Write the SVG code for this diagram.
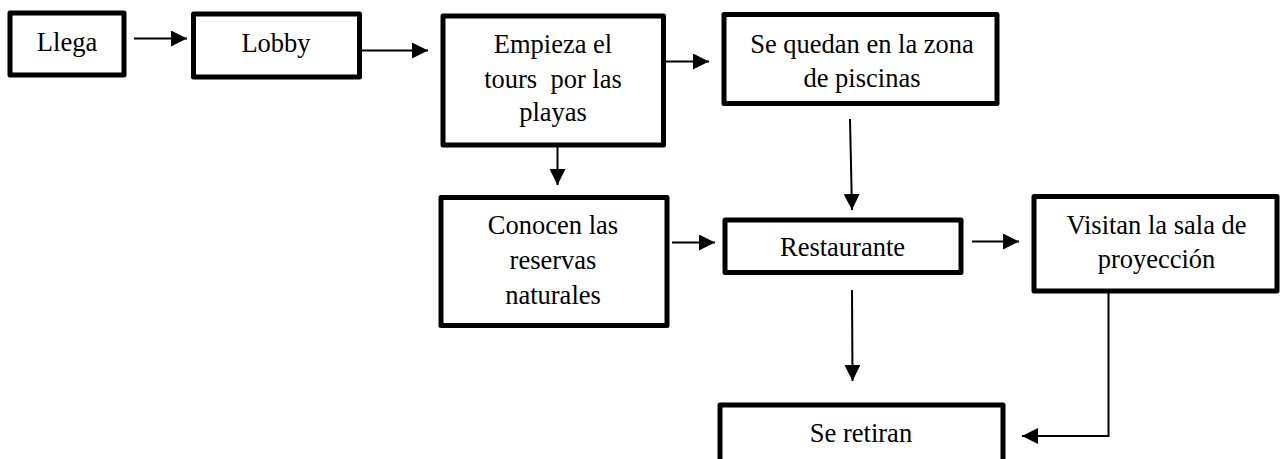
<svg xmlns="http://www.w3.org/2000/svg" width="1285" height="459" viewBox="0 0 1285 459">
<style>
.box{fill:#fff;stroke:#000;stroke-width:5;stroke-linejoin:round}
.t{font-family:"Liberation Serif","Times New Roman",serif;font-size:26.5px;fill:#000;text-anchor:middle}
.c{fill:none;stroke:#000;stroke-width:2}
</style>
<defs>
<marker id="ah" markerUnits="userSpaceOnUse" markerWidth="16" markerHeight="16" refX="16" refY="8" orient="auto">
<path d="M0,0 L16,8 L0,16 Z" fill="#000"/>
</marker>
</defs>
<rect width="1285" height="459" fill="#fff"/>
<g id="connectors">
<line class="c" x1="134" y1="38.5" x2="187" y2="38.5" marker-end="url(#ah)"/>
<line class="c" x1="362" y1="50.5" x2="428" y2="50.5" marker-end="url(#ah)"/>
<line class="c" x1="666" y1="61.5" x2="709" y2="61.5" marker-end="url(#ah)"/>
<line class="c" x1="557.5" y1="147" x2="557.5" y2="185" marker-end="url(#ah)"/>
<line class="c" x1="850" y1="119" x2="852" y2="210" marker-end="url(#ah)"/>
<line class="c" x1="672" y1="242.5" x2="715" y2="242.5" marker-end="url(#ah)"/>
<line class="c" x1="972" y1="241.5" x2="1019" y2="241.5" marker-end="url(#ah)"/>
<line class="c" x1="852" y1="290" x2="852.5" y2="381" marker-end="url(#ah)"/>
<polyline class="c" points="1108.5,293 1108.5,436 1022,436" marker-end="url(#ah)"/>
</g>
<g id="n-llega">
<rect class="box" x="10" y="13" width="114" height="62"/>
<text class="t" x="67" y="51">Llega</text>
</g>
<g id="n-lobby">
<rect class="box" x="193.5" y="14" width="166" height="63"/>
<text class="t" x="276" y="52">Lobby</text>
</g>
<g id="n-empieza">
<rect class="box" x="443" y="16" width="220.5" height="129"/>
<text class="t" x="553" y="53">Empieza el</text>
<text class="t" x="553" y="88" xml:space="preserve">tours  por las</text>
<text class="t" x="553" y="121">playas</text>
</g>
<g id="n-piscinas">
<rect class="box" x="724" y="14.5" width="273" height="89"/>
<text class="t" x="862" y="53">Se quedan en la zona</text>
<text class="t" x="862" y="87">de piscinas</text>
</g>
<g id="n-conocen">
<rect class="box" x="441" y="197.5" width="226" height="128"/>
<text class="t" x="553" y="234">Conocen las</text>
<text class="t" x="553" y="269">reservas</text>
<text class="t" x="553" y="304">naturales</text>
</g>
<g id="n-restaurante">
<rect class="box" x="725" y="220" width="236" height="52.5"/>
<text class="t" x="842.5" y="256">Restaurante</text>
</g>
<g id="n-visitan">
<rect class="box" x="1034" y="196.5" width="243" height="94.5"/>
<text class="t" x="1156.5" y="234">Visitan la sala de</text>
<text class="t" x="1156.5" y="268">proyección</text>
</g>
<g id="n-retiran">
<rect class="box" x="720" y="405" width="283" height="70"/>
<text class="t" x="861" y="441.5">Se retiran</text>
</g>
</svg>
